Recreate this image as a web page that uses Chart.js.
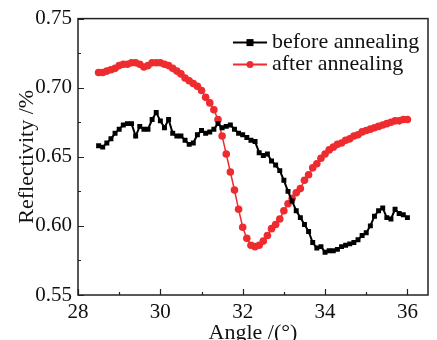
<!DOCTYPE html>
<html>
<head>
<meta charset="utf-8">
<script src="https://cdn.jsdelivr.net/npm/chart.js@4"></script>
<style>
  html, body { margin: 0; padding: 0; background: #fff; }
  #wrap { width: 437px; height: 340px; }
</style>
</head>
<body>
<div id="wrap"><canvas id="myChart" width="437" height="340"></canvas></div>
<script>
const angles = [
  28.5, 28.6, 28.7, 28.8, 28.9, 29.0, 29.1, 29.2, 29.3, 29.4,
  29.5, 29.6, 29.7, 29.8, 29.9, 30.0, 30.1, 30.2, 30.3, 30.4,
  30.5, 30.6, 30.7, 30.8, 30.9, 31.0, 31.1, 31.2, 31.3, 31.4,
  31.5, 31.6, 31.7, 31.8, 31.9, 32.0, 32.1, 32.2, 32.3, 32.4,
  32.5, 32.6, 32.7, 32.8, 32.9, 33.0, 33.1, 33.2, 33.3, 33.4,
  33.5, 33.6, 33.7, 33.8, 33.9, 34.0, 34.1, 34.2, 34.3, 34.4,
  34.5, 34.6, 34.7, 34.8, 34.9, 35.0, 35.1, 35.2, 35.3, 35.4,
  35.5, 35.6, 35.7, 35.8, 35.9, 36.0
];

const beforeAnnealing = [
  0.658, 0.657, 0.660, 0.663, 0.667, 0.670, 0.673, 0.674, 0.674, 0.665,
  0.672, 0.670, 0.670, 0.677, 0.682, 0.676, 0.671, 0.677, 0.667, 0.665,
  0.665, 0.662, 0.659, 0.660, 0.666, 0.669, 0.667, 0.668, 0.670, 0.674,
  0.671, 0.672, 0.673, 0.670, 0.667, 0.666, 0.664, 0.662, 0.661, 0.653,
  0.651, 0.652, 0.647, 0.644, 0.640, 0.633, 0.625, 0.618, 0.611, 0.606,
  0.601, 0.596, 0.588, 0.584, 0.585, 0.581, 0.582, 0.582, 0.583, 0.585,
  0.586, 0.587, 0.588, 0.590, 0.593, 0.595, 0.600, 0.607, 0.611, 0.613,
  0.606, 0.605, 0.612, 0.609, 0.608, 0.606
];

const afterAnnealing = [
  0.711, 0.711, 0.712, 0.713, 0.714, 0.716, 0.717, 0.717, 0.718, 0.718,
  0.717, 0.715, 0.716, 0.718, 0.718, 0.718, 0.717, 0.716, 0.714, 0.712,
  0.710, 0.707, 0.705, 0.703, 0.701, 0.698, 0.693, 0.689, 0.684, 0.677,
  0.665, 0.652, 0.639, 0.626, 0.612, 0.599, 0.591, 0.586, 0.585, 0.586,
  0.589, 0.593, 0.598, 0.601, 0.605, 0.611, 0.616, 0.620, 0.624, 0.627,
  0.633, 0.637, 0.642, 0.645, 0.649, 0.652, 0.655, 0.657, 0.659, 0.660,
  0.662, 0.663, 0.665, 0.666, 0.668, 0.669, 0.670, 0.671, 0.672, 0.673,
  0.674, 0.675, 0.676, 0.676, 0.677, 0.677
];

const xTicks = [28, 30, 32, 34, 36];
const xMinorTicks = [29, 31, 33, 35];
const yTicks = [0.55, 0.60, 0.65, 0.70, 0.75];
const yMinorTicks = [0.575, 0.625, 0.675, 0.725];

const RED = '#ee2b2f';
const FONT = "'Liberation Serif', 'DejaVu Serif', serif";

const toPoints = (values) => values.map((v, i) => ({ x: angles[i], y: v }));

// inward tick marks + frame
const frameTicks = {
  id: 'frameTicks',
  afterDatasetsDraw(chart) {
    const { ctx, chartArea: a, scales: { x, y } } = chart;
    ctx.save();
    ctx.strokeStyle = '#222';
    ctx.lineWidth = 1.2;
    ctx.beginPath();
    xTicks.forEach(t => { const px = Math.round(x.getPixelForValue(t)) + 0.5; ctx.moveTo(px, a.bottom); ctx.lineTo(px, a.bottom - 6); });
    xMinorTicks.forEach(t => { const px = Math.round(x.getPixelForValue(t)) + 0.5; ctx.moveTo(px, a.bottom); ctx.lineTo(px, a.bottom - 3); });
    yTicks.forEach(t => { const py = Math.round(y.getPixelForValue(t)) + 0.5; ctx.moveTo(a.left, py); ctx.lineTo(a.left + 6, py); });
    yMinorTicks.forEach(t => { const py = Math.round(y.getPixelForValue(t)) + 0.5; ctx.moveTo(a.left, py); ctx.lineTo(a.left + 3, py); });
    ctx.stroke();
    ctx.lineWidth = 1.5;
    ctx.strokeRect(a.left, a.top, a.right - a.left, a.bottom - a.top);
    ctx.restore();
  }
};

// legend inside the plot, top right
const insideLegend = {
  id: 'insideLegend',
  afterDraw(chart) {
    const { ctx, chartArea: a } = chart;
    ctx.save();
    ctx.font = '22px ' + FONT;
    ctx.textBaseline = 'middle';
    chart.data.datasets.forEach((ds, i) => {
      const yy = a.top + 24 + i * 22;
      const x0 = a.left + 155;
      ctx.strokeStyle = ds.borderColor;
      ctx.lineWidth = 2;
      ctx.beginPath();
      ctx.moveTo(x0, yy);
      ctx.lineTo(x0 + 34, yy);
      ctx.stroke();
      ctx.fillStyle = ds.borderColor;
      if (ds.pointStyle === 'rect') {
        ctx.fillRect(x0 + 17 - 3.5, yy - 3.5, 7, 7);
      } else {
        ctx.beginPath();
        ctx.arc(x0 + 17, yy, 3.5, 0, Math.PI * 2);
        ctx.fill();
      }
      ctx.fillStyle = '#111';
      ctx.fillText(ds.label, x0 + 39, yy);
    });
    ctx.restore();
  }
};

const ctx = document.getElementById('myChart').getContext('2d');

const myChart = new Chart(ctx, {
  type: 'line',
  data: {
    datasets: [
      {
        label: 'before annealing',
        data: toPoints(beforeAnnealing),
        borderColor: '#000',
        backgroundColor: '#000',
        borderWidth: 2,
        pointStyle: 'rect',
        pointRadius: 3.5,
        pointBorderWidth: 0,
        tension: 0
      },
      {
        label: 'after annealing',
        data: toPoints(afterAnnealing),
        borderColor: RED,
        backgroundColor: RED,
        borderWidth: 1.5,
        pointStyle: 'circle',
        pointRadius: 3.8,
        pointBorderWidth: 0,
        tension: 0
      }
    ]
  },
  options: {
    responsive: false,
    animation: false,
    layout: { padding: { left: 0, right: 9, top: 14, bottom: 0 } },
    plugins: {
      legend: { display: false },
      tooltip: { enabled: false }
    },
    scales: {
      x: {
        type: 'linear',
        min: 28,
        max: 36.5,
        afterBuildTicks: (scale) => { scale.ticks = xTicks.map(v => ({ value: v })); },
        afterFit: (scale) => { scale.height = 45; },
        grid: { display: false, drawTicks: false },
        border: { display: false },
        ticks: {
          color: '#111',
          padding: 5,
          font: { family: FONT, size: 21 },
          callback: (v) => String(v)
        },
        title: {
          display: true,
          text: 'Angle /(°)',
          color: '#111',
          font: { family: FONT, size: 22 },
          padding: { top: 0, bottom: -6 }
        }
      },
      y: {
        min: 0.55,
        max: 0.75,
        afterBuildTicks: (scale) => { scale.ticks = yTicks.map(v => ({ value: v })); },
        afterFit: (scale) => { scale.width = 78; },
        grid: { display: false, drawTicks: false },
        border: { display: false },
        ticks: {
          color: '#111',
          padding: 6,
          font: { family: FONT, size: 21 },
          callback: (v) => v.toFixed(2)
        },
        title: {
          display: true,
          text: 'Reflectivity /%',
          color: '#111',
          font: { family: FONT, size: 22 },
          padding: { top: 14, bottom: 0 }
        }
      }
    }
  },
  plugins: [frameTicks, insideLegend]
});
</script>
</body>
</html>
